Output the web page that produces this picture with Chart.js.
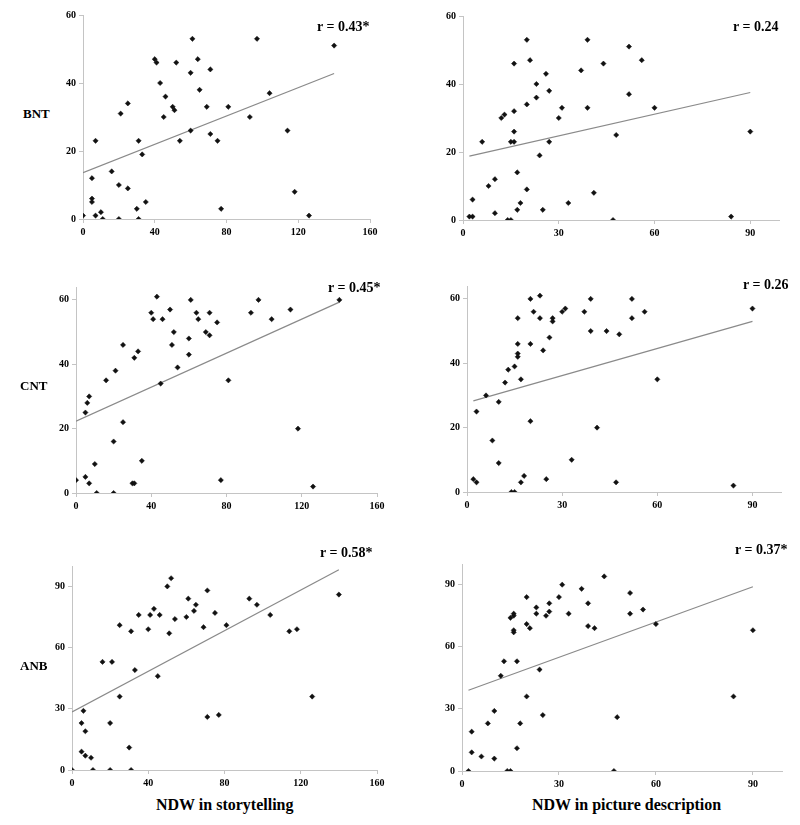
<!DOCTYPE html>
<html>
<head>
<meta charset="utf-8">
<script src="https://cdn.jsdelivr.net/npm/chart.js@4"></script>
<style>
  html, body { margin:0; padding:0; background:#fff; }
  body { width:800px; height:825px; position:relative; overflow:hidden; font-family:"Liberation Serif", "Times New Roman", serif; }
  canvas { position:absolute; }
  .t { position:absolute; font-weight:bold; color:#000; white-space:nowrap; line-height:1; }
  .r { font-size:14px; }
  .row { font-size:13px; }
  .ttl { font-size:16px; }
</style>
</head>
<body>
<canvas id="c1"></canvas><canvas id="c2"></canvas>
<canvas id="c3"></canvas><canvas id="c4"></canvas>
<canvas id="c5"></canvas><canvas id="c6"></canvas>

<div class="t r" style="left:317px;top:20px;">r = 0.43*</div>
<div class="t r" style="left:733px;top:20px;">r = 0.24</div>
<div class="t r" style="left:328px;top:281px;">r = 0.45*</div>
<div class="t r" style="left:743px;top:278px;">r = 0.26</div>
<div class="t r" style="left:320px;top:546px;">r = 0.58*</div>
<div class="t r" style="left:735px;top:543px;">r = 0.37*</div>

<div class="t row" style="left:23px;top:107px;">BNT</div>
<div class="t row" style="left:20px;top:379px;">CNT</div>
<div class="t row" style="left:20px;top:659px;">ANB</div>

<div class="t ttl" style="left:156px;top:797px;">NDW in storytelling</div>
<div class="t ttl" style="left:532px;top:797px;">NDW in picture description</div>

<script>
// ---- data ----
const storyX = [0,5,5,5,7,7,10,11,16,20,20,21,25,25,30,31,31,33,35,40,41,43,45,46,50,51,52,54,60,60,61,64,65,69,71,71,75,77,81,93,97,104,114,118,126,140];
const bntStoryY = [1,12,6,5,23,1,2,0,14,10,0,31,34,9,3,23,0,19,5,47,46,40,30,36,33,32,46,23,43,26,53,47,38,33,44,25,23,3,33,30,53,37,26,8,1,51];
const bntStoryLine = [[0,13.6],[140,42.8]];

const bntPicX = [2,3,3,6,8,10,10,12,13,14,15,15,16,16,16,16,17,17,18,20,20,20,21,23,23,24,25,26,27,27,30,31,33,37,39,39,41,44,47,48,52,52,56,60,84,90];
const bntPicY = [1,1,6,23,10,12,2,30,31,0,0,23,23,26,32,46,14,3,5,53,34,9,47,40,36,19,3,43,38,23,30,33,5,44,53,33,8,46,0,25,51,37,47,33,1,26];
const bntPicLine = [[2,18.8],[90,37.5]];

const cntStoryX = [0,5,5,6,7,7,10,11,16,20,20,21,25,25,30,31,31,33,35,40,41,43,45,46,50,51,52,54,60,60,61,64,65,69,71,71,75,77,81,93,97,104,114,118,126,140];
const cntStoryY = [4,5,25,28,30,3,9,0,35,16,0,38,46,22,3,3,42,44,10,56,54,61,34,54,57,46,50,39,48,43,60,56,54,50,49,56,53,4,35,56,60,54,57,20,2,60];
const cntStoryLine = [[0,22.3],[140,59.3]];

const cntPicX = [2,3,3,6,8,10,10,12,13,14,15,15,16,16,16,16,17,17,18,20,20,20,21,23,23,24,25,26,27,27,30,31,33,37,39,39,41,44,47,48,52,52,56,60,84,90];
const cntPicY = [4,3,25,30,16,28,9,34,38,0,0,39,54,46,43,42,35,3,5,60,46,22,56,61,54,44,4,48,54,53,56,57,10,56,60,50,20,50,3,49,60,54,56,35,2,57];
const cntPicLine = [[2,28.3],[90,53]];

const anbStoryX = [0,5,5,6,7,7,10,11,16,20,20,21,25,25,30,31,31,33,35,40,41,43,45,46,50,51,52,54,60,61,64,65,69,71,71,75,77,81,93,97,104,114,118,126,140];
const anbStoryY = [0,9,23,29,7,19,6,0,53,23,0,53,71,36,11,0,68,49,76,69,76,79,46,76,90,67,94,74,75,84,78,81,70,88,26,77,27,71,84,81,76,68,69,36,86];
const anbStoryLine = [[0,28.5],[140,98.2]];

const anbPicX = [2,3,3,6,8,10,10,12,13,14,15,15,16,16,16,16,17,17,18,20,20,20,21,23,23,24,25,26,27,27,30,31,33,37,39,39,41,44,47,48,52,52,56,60,84,90];
const anbPicY = [0,9,19,7,23,29,6,46,53,0,0,74,76,75,68,67,53,11,23,84,71,36,69,79,76,49,27,75,81,77,84,90,76,88,81,70,69,94,0,26,86,76,78,71,36,68];
const anbPicLine = [[2,39],[90,89]];

// axis ranges and tick steps
const storyXRange = [0,160,40];
const picXRange = [0,99,30];
const bntYRange = [0,60,20];
const cntYRange = [0,64,20];
const anbYRange = [0,100,30];

// ---- layout of plot areas (page px) ----
const panels = [
  {id:'c1', L:83, R:370, T:15, B:219, x:storyX,  y:bntStoryY, line:bntStoryLine, xr:storyXRange, yr:bntYRange},
  {id:'c2', L:463, R:779, T:16, B:220, x:bntPicX, y:bntPicY,  line:bntPicLine,   xr:picXRange,   yr:bntYRange},
  {id:'c3', L:76, R:377, T:287, B:493, x:cntStoryX, y:cntStoryY, line:cntStoryLine, xr:storyXRange, yr:cntYRange},
  {id:'c4', L:467, R:781, T:286, B:492, x:cntPicX, y:cntPicY, line:cntPicLine, xr:picXRange, yr:cntYRange},
  {id:'c5', L:72, R:377, T:566, B:770, x:anbStoryX, y:anbStoryY, line:anbStoryLine, xr:storyXRange, yr:anbYRange},
  {id:'c6', L:462, R:782, T:564, B:771, x:anbPicX, y:anbPicY, line:anbPicLine, xr:picXRange, yr:anbYRange},
];

const YW = 30, XH = 22, PT = 10, PR = 16;
const tickFont = {family:'"Liberation Serif", serif', size:10, weight:'bold'};
const axisColor = '#c4c4c4';

function axis(range, isY) {
  return {
    type:'linear',
    min:range[0], max:range[1],
    ticks:{stepSize:range[2], includeBounds:false, font:tickFont, color:'#000', padding:3, maxRotation:0, autoSkip:false},
    grid:{display:true, drawOnChartArea:false, drawTicks:true, tickLength:4, color:axisColor},
    border:{display:true, color:axisColor, width:1},
    afterFit:(s)=>{ if (isY) s.width = YW; else s.height = XH; }
  };
}

panels.forEach(p => {
  const cv = document.getElementById(p.id);
  const w = YW + (p.R - p.L) + PR;
  const h = PT + (p.B - p.T) + XH;
  cv.width = w; cv.height = h;
  cv.style.width = w + 'px'; cv.style.height = h + 'px';
  cv.style.left = (p.L - YW) + 'px';
  cv.style.top = (p.T - PT) + 'px';
  const pts = p.x.map((v,i)=>({x:v, y:p.y[i]}));
  new Chart(cv, {
    type:'scatter',
    data:{datasets:[
      {data:p.line.map(a=>({x:a[0], y:a[1]})), showLine:true, borderColor:'#8a8a8a', borderWidth:1.2, pointRadius:0, order:2},
      {data:pts, pointStyle:'rectRot', pointRadius:2.6, backgroundColor:'#111', borderColor:'#111', borderWidth:0.5, order:1}
    ]},
    options:{
      responsive:false, animation:false, devicePixelRatio:1,
      layout:{padding:{top:PT, right:PR, left:0, bottom:0}},
      plugins:{legend:{display:false}, tooltip:{enabled:false}},
      scales:{x:axis(p.xr,false), y:axis(p.yr,true)}
    }
  });
});
</script>
</body>
</html>
